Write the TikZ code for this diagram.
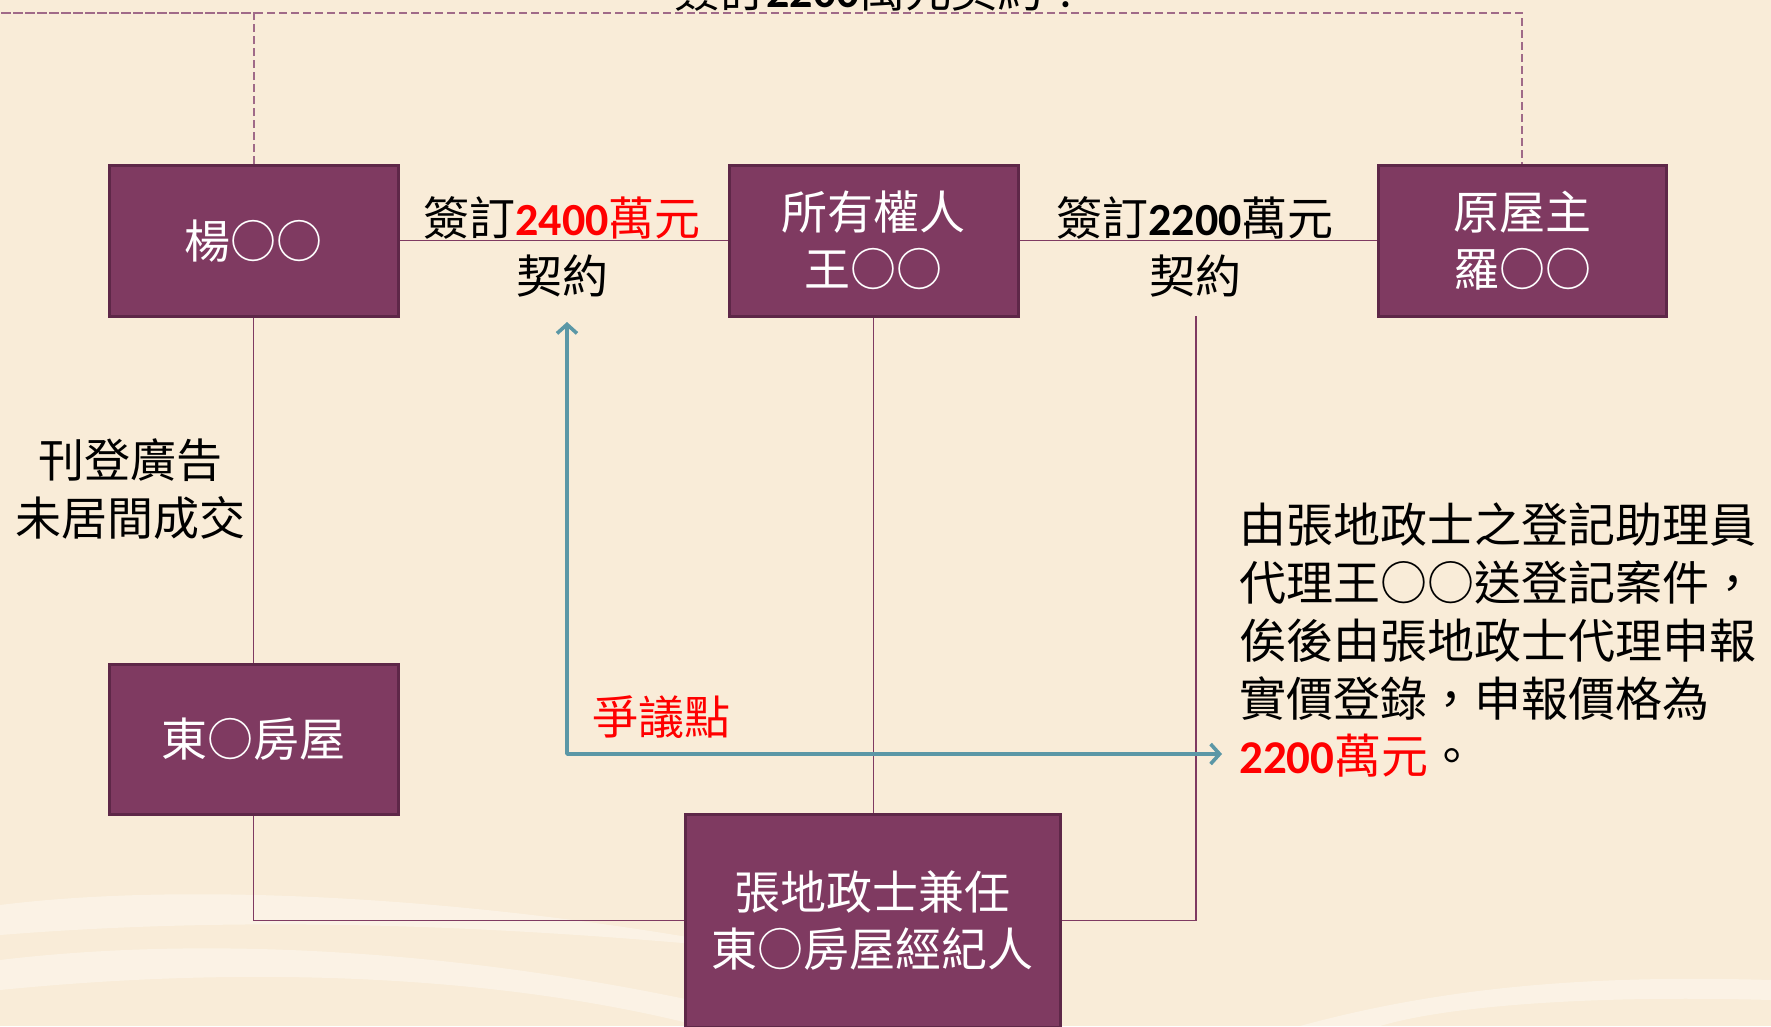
\documentclass[tikz,border=0pt]{standalone}
\usepackage{fontspec}
\setmainfont{Noto Sans CJK TC}
\newfontfamily\lat{Carlito}
\usetikzlibrary{arrows.meta}
\definecolor{bg}{HTML}{F9ECD8}
\definecolor{boxfill}{HTML}{7F3A61}
\definecolor{boxedge}{HTML}{5E2748}
\definecolor{conn}{HTML}{7F3A61}
\definecolor{dashc}{HTML}{A06A88}
\definecolor{tealc}{HTML}{5B97A6}
\definecolor{hot}{HTML}{FF0000}
\newcommand{\dg}[1]{{\lat\bfseries #1}}
\begin{document}
\begin{tikzpicture}[x=1pt,y=-1pt,
  pbox/.style={draw=boxedge, line width=2.5pt, fill=boxfill, text=white,
    font=\fontsize{46}{57}\selectfont, align=center, inner sep=0pt,
    anchor=north west},
  lbl/.style={font=\fontsize{46}{58}\selectfont, align=center, inner sep=0pt},
  conn/.style={draw=conn, line width=1.3pt}]
\clip (0,0) rectangle (1771,1026);
\fill[bg] (0,0) rectangle (1771,1026);
% faint background swirls
\begin{scope}[white, opacity=0.35]
  \fill (0,905) .. controls (200,880) and (500,900) .. (760,950)
        .. controls (500,925) and (250,915) .. (0,935) -- cycle;
  \fill (0,960) .. controls (250,930) and (550,960) .. (800,1026)
        -- (700,1026) .. controls (500,975) and (250,965) .. (0,990) -- cycle;
  \fill (1300,1026) .. controls (1450,985) and (1600,975) .. (1771,980)
        -- (1771,1000) .. controls (1600,995) and (1450,1005) .. (1380,1026) -- cycle;
\end{scope}

% boxes
\node[pbox, minimum width=289pt, minimum height=151pt] (yang) at (108,164) {楊○○};
\node[pbox, minimum width=289pt, minimum height=151pt] (own) at (728,164) {所有權人\\王○○};
\node[pbox, minimum width=288pt, minimum height=151pt] (orig) at (1377,164) {原屋主\\羅○○};
\node[pbox, minimum width=289pt, minimum height=150pt] (dong) at (108,663) {東○房屋};
\node[pbox, minimum width=375pt, minimum height=213pt] (zhang) at (684,813) {張地政士兼任\\東○房屋經紀人};

% connectors
\draw[conn] (yang.east) -- (own.west);
\draw[conn] (own.east) -- (orig.west);
\draw[conn] (yang.south) -- (dong.north);
\draw[conn] (dong.south) |- (zhang.west);
\draw[conn] (own.south) -- (own.south |- zhang.north);
\coordinate (c2) at (1196,316);
\draw[conn] (zhang.east) -| (c2);
\coordinate (dtop) at (0,13);
\draw[draw=dashc, line width=1.6pt, dash pattern=on 8pt off 4pt]
  (yang.north) |- (dtop) -| (orig.north);

% labels
\node[lbl] (l1) at (562,247) {簽訂\textcolor{hot}{\dg{2400}萬元}\\契約};
\node[lbl] (l2) at (1195,247) {簽訂\dg{2200}萬元\\契約};
\node[lbl] (l3) at (130,489) {刊登廣告\\未居間成交};
\node[lbl] (l4) at (882,-10) {簽訂\dg{2200}萬元契約？};
\node[lbl, text=hot] (l5) at (661,717) {爭議點};
\node[lbl, align=left, anchor=north west, font=\fontsize{47}{57.7}\selectfont] (l6) at (1239,503)
  {由張地政士之登記助理員\\代理王○○送登記案件，\\俟後由張地政士代理申報\\實價登錄，申報價格為\\\textcolor{hot}{\dg{2200}萬元}。};

% dispute arrow
\coordinate (aup) at (567,322);
\coordinate (aright) at (1222,754);
\draw[draw=tealc, line width=3.6pt, line join=round,
  {Straight Barb[length=9pt,width=20pt]}-{Straight Barb[length=9pt,width=20pt]}]
  (aup) |- (aright);
\end{tikzpicture}
\end{document}
